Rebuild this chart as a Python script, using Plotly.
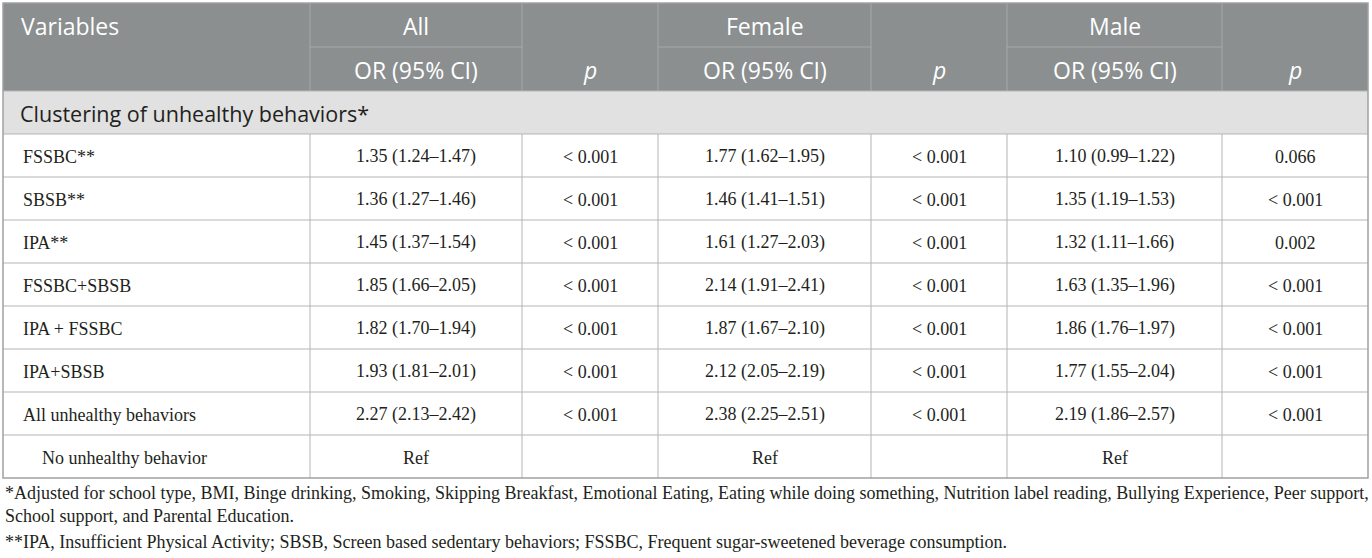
import plotly.graph_objects as go

# table content
variables = ["FSSBC**", "SBSB**", "IPA**", "FSSBC+SBSB", "IPA + FSSBC", "IPA+SBSB",
             "All unhealthy behaviors", "No unhealthy behavior"]
all_or = ["1.35 (1.24–1.47)", "1.36 (1.27–1.46)", "1.45 (1.37–1.54)", "1.85 (1.66–2.05)",
          "1.82 (1.70–1.94)", "1.93 (1.81–2.01)", "2.27 (2.13–2.42)", "Ref"]
all_p = ["< 0.001", "< 0.001", "< 0.001", "< 0.001", "< 0.001", "< 0.001", "< 0.001", ""]
female_or = ["1.77 (1.62–1.95)", "1.46 (1.41–1.51)", "1.61 (1.27–2.03)", "2.14 (1.91–2.41)",
             "1.87 (1.67–2.10)", "2.12 (2.05–2.19)", "2.38 (2.25–2.51)", "Ref"]
female_p = ["< 0.001", "< 0.001", "< 0.001", "< 0.001", "< 0.001", "< 0.001", "< 0.001", ""]
male_or = ["1.10 (0.99–1.22)", "1.35 (1.19–1.53)", "1.32 (1.11–1.66)", "1.63 (1.35–1.96)",
           "1.86 (1.76–1.97)", "1.77 (1.55–2.04)", "2.19 (1.86–2.57)", "Ref"]
male_p = ["0.066", "< 0.001", "0.002", "< 0.001", "< 0.001", "< 0.001", "< 0.001", ""]

group_labels = ["All", "Female", "Male"]
sub_labels = ["OR (95% CI)", "<i>p</i>"]
section_title = "Clustering of unhealthy behaviors*"
footnotes = [
    "*Adjusted for school type, BMI, Binge drinking, Smoking, Skipping Breakfast, Emotional Eating, "
    "Eating while doing something, Nutrition label reading, Bullying Experience, Peer support,",
    "School support, and Parental Education.",
    "**IPA, Insufficient Physical Activity; SBSB, Screen based sedentary behaviors; "
    "FSSBC, Frequent sugar-sweetened beverage consumption.",
]

# layout of the grid (pixels)
W, H = 1372, 558
col_edges = [3, 310, 522, 658, 871, 1007, 1222, 1368]
head_top, head_mid, head_bot = 3, 47, 91
sect_bot = 134
row_h = 43

HEAD_FILL = "#8b8f90"
SECT_FILL = "#e0e1e0"
GRID = "#b3b6b5"
HEAD_GRID = "#a6a9aa"
TEXT = "#231f20"
SANS = "Open Sans"
SERIF = "Liberation Serif"
HEAD_SIZE = 23
BODY_SIZE = 18

shapes = []
annotations = []


def rect(x0, y0, x1, y1, fill):
    shapes.append(dict(type="rect", xref="x", yref="y", x0=x0, y0=y0, x1=x1, y1=y1,
                       fillcolor=fill, line=dict(width=0), layer="below"))


def hline(x0, x1, y, color, width=1):
    shapes.append(dict(type="line", xref="x", yref="y", x0=x0, x1=x1, y0=y, y1=y,
                       line=dict(color=color, width=width)))


def vline(x, y0, y1, color, width=1):
    shapes.append(dict(type="line", xref="x", yref="y", x0=x, x1=x, y0=y0, y1=y1,
                       line=dict(color=color, width=width)))


def text(x, y, s, font, size, color=TEXT, anchor="center"):
    annotations.append(dict(x=x, y=y, xref="x", yref="y", text=s, showarrow=False,
                            xanchor=anchor, yanchor="middle",
                            font=dict(family=font, size=size, color=color)))


# header
rect(col_edges[0], head_top, col_edges[-1], head_bot, HEAD_FILL)
for x in col_edges[1:-1]:
    vline(x, head_top, head_bot, HEAD_GRID)
for i in range(3):
    xl, xr = col_edges[1 + 2 * i], col_edges[2 + 2 * i]
    hline(xl, xr, head_mid, HEAD_GRID)
    text((xl + xr) / 2, (head_top + head_mid) / 2 + 1, group_labels[i], SANS, HEAD_SIZE, "white")
    text((xl + xr) / 2, (head_mid + head_bot) / 2 + 1, sub_labels[0], SANS, HEAD_SIZE, "white")
    pl, pr = col_edges[2 + 2 * i], col_edges[3 + 2 * i]
    text((pl + pr) / 2, (head_mid + head_bot) / 2 + 1, sub_labels[1], SANS, HEAD_SIZE, "white")
text(col_edges[0] + 16, (head_top + head_mid) / 2 + 1, "Variables", SANS, HEAD_SIZE, "white", "left")

# section row
rect(col_edges[0], head_bot, col_edges[-1], sect_bot, SECT_FILL)
text(col_edges[0] + 15, (head_bot + sect_bot) / 2 + 1, section_title, SANS, 21.5, TEXT, "left")
hline(col_edges[0], col_edges[-1], head_bot, GRID)

# body rows
columns = [all_or, all_p, female_or, female_p, male_or, male_p]
for r, name in enumerate(variables):
    y0 = sect_bot + r * row_h
    y1 = y0 + row_h
    yc = (y0 + y1) / 2 + 1
    hline(col_edges[0], col_edges[-1], y0, GRID)
    indent = 37 if name.startswith("No ") else 18
    text(col_edges[0] + indent, yc, name, SERIF, BODY_SIZE, TEXT, "left")
    for c, vals in enumerate(columns):
        text((col_edges[c + 1] + col_edges[c + 2]) / 2, yc, vals[r], SERIF, BODY_SIZE)
body_bot = sect_bot + len(variables) * row_h
for x in col_edges[1:-1]:
    vline(x, sect_bot, body_bot, GRID)

# outer border
shapes.append(dict(type="rect", xref="x", yref="y", x0=col_edges[0], y0=head_top,
                   x1=col_edges[-1], y1=body_bot, line=dict(color="#9fa2a1", width=1.5)))

# footnotes
foot_y = [493, 516, 542]
for s, y in zip(footnotes, foot_y):
    text(col_edges[0], y, s, SERIF, 18, TEXT, "left")

fig = go.Figure()
fig.add_trace(go.Scatter(x=[0, W], y=[0, H], mode="markers", marker=dict(opacity=0),
                         hoverinfo="skip", showlegend=False))
fig.update_layout(
    width=W, height=H,
    margin=dict(l=0, r=0, t=0, b=0),
    paper_bgcolor="white", plot_bgcolor="white",
    xaxis=dict(range=[0, W], visible=False, fixedrange=True),
    yaxis=dict(range=[H, 0], visible=False, fixedrange=True),
    shapes=shapes, annotations=annotations,
)

# page body has a default 8px margin, remove it so the figure fills the window
fig.write_html("out.html", config={"displayModeBar": False},
               post_script="document.body.style.margin='0';document.body.style.overflow='hidden';")
